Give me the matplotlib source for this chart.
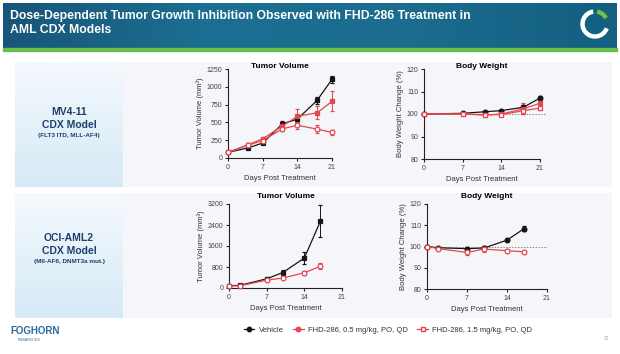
import numpy as np
from matplotlib import pyplot as plt
from matplotlib.patches import Rectangle, Arc
from matplotlib.lines import Line2D
from matplotlib.colors import LinearSegmentedColormap

plt.rcParams['font.family'] = ['Liberation Sans', 'DejaVu Sans']

# MV4-11 tumor volume
days_mv_tv = [0, 4, 7, 11, 14, 18, 21]
veh_mv_tv = [80, 140, 210, 480, 545, 810, 1105]
veh_mv_tv_err = [10, 15, 20, 40, 40, 50, 45]
lo_mv_tv = [80, 185, 270, 450, 585, 635, 795]
lo_mv_tv_err = [10, 20, 25, 40, 100, 90, 140]
hi_mv_tv = [80, 178, 245, 410, 460, 405, 360]
hi_mv_tv_err = [10, 20, 25, 35, 50, 60, 30]

# MV4-11 body weight
days_mv_bw = [0, 7, 11, 14, 18, 21]
veh_mv_bw = [100, 100.3, 101.0, 101.5, 103.0, 107.1]
veh_mv_bw_err = [0.3, 0.4, 0.5, 0.5, 1.0, 1.0]
lo_mv_bw = [100, 100.0, 99.5, 100.0, 102.3, 104.8]
lo_mv_bw_err = [0.3, 0.4, 0.5, 0.5, 2.5, 1.2]
hi_mv_bw = [100, 100.0, 99.7, 99.7, 101.5, 102.6]
hi_mv_bw_err = [0.3, 0.4, 0.5, 0.5, 1.5, 1.0]

# OCI-AML2 tumor volume
days_oci = [0, 2, 7, 10, 14, 17]
veh_oci_tv = [90, 100, 350, 590, 1140, 2550]
veh_oci_tv_err = [20, 20, 60, 90, 220, 620]
hi_oci_tv = [80, 80, 300, 380, 580, 830]
hi_oci_tv_err = [20, 20, 40, 50, 70, 120]

# OCI-AML2 body weight
veh_oci_bw = [100, 99.4, 99.0, 99.3, 103.0, 108.4]
veh_oci_bw_err = [0.5, 0.5, 1.0, 1.0, 0.5, 1.2]
hi_oci_bw = [100, 99.0, 97.2, 98.8, 98.0, 97.5]
hi_oci_bw_err = [0.5, 0.5, 1.0, 1.5, 0.8, 0.5]

legend_labels = ['Vehicle', 'FHD-286, 0.5 mg/kg, PO, QD', 'FHD-286, 1.5 mg/kg, PO, QD']

BLACK = '#151515'
RED = '#e5474f'
W, H = 620, 354


def box(l, t, r, b):
    return [l / W, 1 - b / H, (r - l) / W, (b - t) / H]


fig = plt.figure(figsize=(6.2, 3.54), dpi=100)
fig.patch.set_facecolor('white')

bg = fig.add_axes([0, 0, 1, 1], zorder=-5)
bg.axis('off')

# header band
hcmap = LinearSegmentedColormap.from_list('h', ['#175678', '#1c6f92', '#1b6c8e', '#145f82'])
bg.imshow(np.linspace(0, 1, 200).reshape(1, -1), cmap=hcmap, extent=(3, 617, 48, 3), aspect='auto')
bg.add_patch(Rectangle((3, 48), 614, 2.5, color='#69be4c'))
bg.text(10, 23, 'Dose-Dependent Tumor Growth Inhibition Observed with FHD-286 Treatment in\nAML CDX Models',
        color='white', fontsize=8.8, fontweight='bold', va='center', ha='left', linespacing=1.2)
bg.add_patch(Arc((595, 24), 25, 25, theta1=20, theta2=262, color='white', lw=3.2))
bg.add_patch(Arc((595, 24), 25, 25, theta1=-80, theta2=-28, color='#6cc04a', lw=3.2))

# row panels
vcmap = LinearSegmentedColormap.from_list('v', ['#f4f9fd', '#d6eaf6'])
for top, bot in [(62, 187), (193, 318)]:
    bg.imshow(np.linspace(0, 1, 100).reshape(-1, 1), cmap=vcmap, extent=(15, 123, bot, top), aspect='auto')
    bg.add_patch(Rectangle((123, top), 489, bot - top, color='#f5f6fa', lw=0))

bg.set_xlim(0, W)
bg.set_ylim(H, 0)

navy = '#1e3f6e'
bg.text(69, 112, 'MV4-11', color=navy, fontsize=7.5, fontweight='bold', ha='center', va='center')
bg.text(69, 125, 'CDX Model', color=navy, fontsize=7.5, fontweight='bold', ha='center', va='center')
bg.text(69, 136, '(FLT3 ITD, MLL-AF4)', color=navy, fontsize=4.6, fontweight='bold', ha='center', va='center')
bg.text(69, 238, 'OCI-AML2', color=navy, fontsize=7.5, fontweight='bold', ha='center', va='center')
bg.text(69, 251, 'CDX Model', color=navy, fontsize=7.5, fontweight='bold', ha='center', va='center')
bg.text(69, 262, '(MII-AF6, DNMT3a mut.)', color=navy, fontsize=4.6, fontweight='bold', ha='center', va='center')

bg.text(10, 331, 'FOGHORN', color='#2b6c9c', fontsize=7, fontweight='bold', ha='left', va='center')
bg.text(29, 340, 'THERAPEUTICS', color='#2b6c9c', fontsize=2.2, ha='center', va='center')
bg.text(607, 338, '22', color='#aaaaaa', fontsize=3.5, ha='center', va='center')


def style(ax, ylim, yticks, title, ylabel, ty):
    ax.set_facecolor('none')
    ax.set_xlim(0, 21)
    ax.set_ylim(*ylim)
    ax.set_xticks([0, 7, 14, 21])
    ax.set_yticks(yticks)
    for s in ['top', 'right']:
        ax.spines[s].set_visible(False)
    for s in ['left', 'bottom']:
        ax.spines[s].set_linewidth(0.8)
        ax.spines[s].set_color('#222222')
    ax.tick_params(labelsize=5, length=2.5, width=0.8, pad=1.5, colors='#222222', labelcolor='#444444')
    ax.set_xlabel('Days Post Treatment', fontsize=5.5, color='#333333', labelpad=3)
    ax.set_ylabel(ylabel, fontsize=5.5, color='#333333', labelpad=2)
    ax.text(0.5, ty, title, transform=ax.transAxes, fontsize=6, fontweight='bold',
            ha='center', va='center')


def series(ax, x, y, err, color, marker, filled):
    ax.errorbar(x, y, yerr=err, color=color, lw=0.9, marker=marker, ms=3.4,
                mfc=color if filled else 'white', mec=color, mew=0.9,
                capsize=1.5, elinewidth=0.7, capthick=0.7, clip_on=False, zorder=3)


ax1 = fig.add_axes(box(228, 69, 332, 158))
style(ax1, (0, 1250), [0, 250, 500, 750, 1000, 1250], 'Tumor Volume', 'Tumor Volume (mm³)', 1.03)
series(ax1, days_mv_tv, veh_mv_tv, veh_mv_tv_err, BLACK, 's', True)
series(ax1, days_mv_tv, lo_mv_tv, lo_mv_tv_err, RED, 's', True)
series(ax1, days_mv_tv, hi_mv_tv, hi_mv_tv_err, RED, 'o', False)

ax2 = fig.add_axes(box(424, 69, 540, 159))
style(ax2, (80, 120), [80, 90, 100, 110, 120], 'Body Weight', 'Body Weight Change (%)', 1.03)
ax2.plot([0, 22], [100, 100], ls=(0, (1.5, 1.5)), color='#888888', lw=0.7, clip_on=False, zorder=1)
series(ax2, days_mv_bw, veh_mv_bw, veh_mv_bw_err, BLACK, 'o', True)
series(ax2, days_mv_bw, lo_mv_bw, lo_mv_bw_err, RED, 's', True)
series(ax2, days_mv_bw, hi_mv_bw, hi_mv_bw_err, RED, 's', False)

ax3 = fig.add_axes(box(229, 204, 342, 288))
style(ax3, (0, 3200), [0, 800, 1600, 2400, 3200], 'Tumor Volume', 'Tumor Volume (mm³)', 1.09)
series(ax3, days_oci, veh_oci_tv, veh_oci_tv_err, BLACK, 's', True)
series(ax3, days_oci, hi_oci_tv, hi_oci_tv_err, RED, 'o', False)

ax4 = fig.add_axes(box(427, 204, 547, 289))
style(ax4, (80, 120), [80, 90, 100, 110, 120], 'Body Weight', 'Body Weight Change (%)', 1.09)
ax4.plot([0, 21], [100, 100], ls=(0, (1.5, 1.5)), color='#888888', lw=0.7, clip_on=False, zorder=1)
series(ax4, days_oci, veh_oci_bw, veh_oci_bw_err, BLACK, 'o', True)
series(ax4, days_oci, hi_oci_bw, hi_oci_bw_err, RED, 'o', False)

handles = [
    Line2D([], [], color=BLACK, marker='o', ms=3.2, lw=0.9),
    Line2D([], [], color=RED, marker='o', ms=3.2, lw=0.9),
    Line2D([], [], color=RED, marker='s', ms=3.2, lw=0.9, mfc='white'),
]
fig.legend(handles, legend_labels, ncol=3, loc='center', bbox_to_anchor=(388 / W, 1 - 330 / H),
           frameon=False, fontsize=5.5, handlelength=1.4, handletextpad=0.6, columnspacing=1.2,
           labelcolor='#333333')

fig.savefig('out.png', dpi=100)
plt.close()
